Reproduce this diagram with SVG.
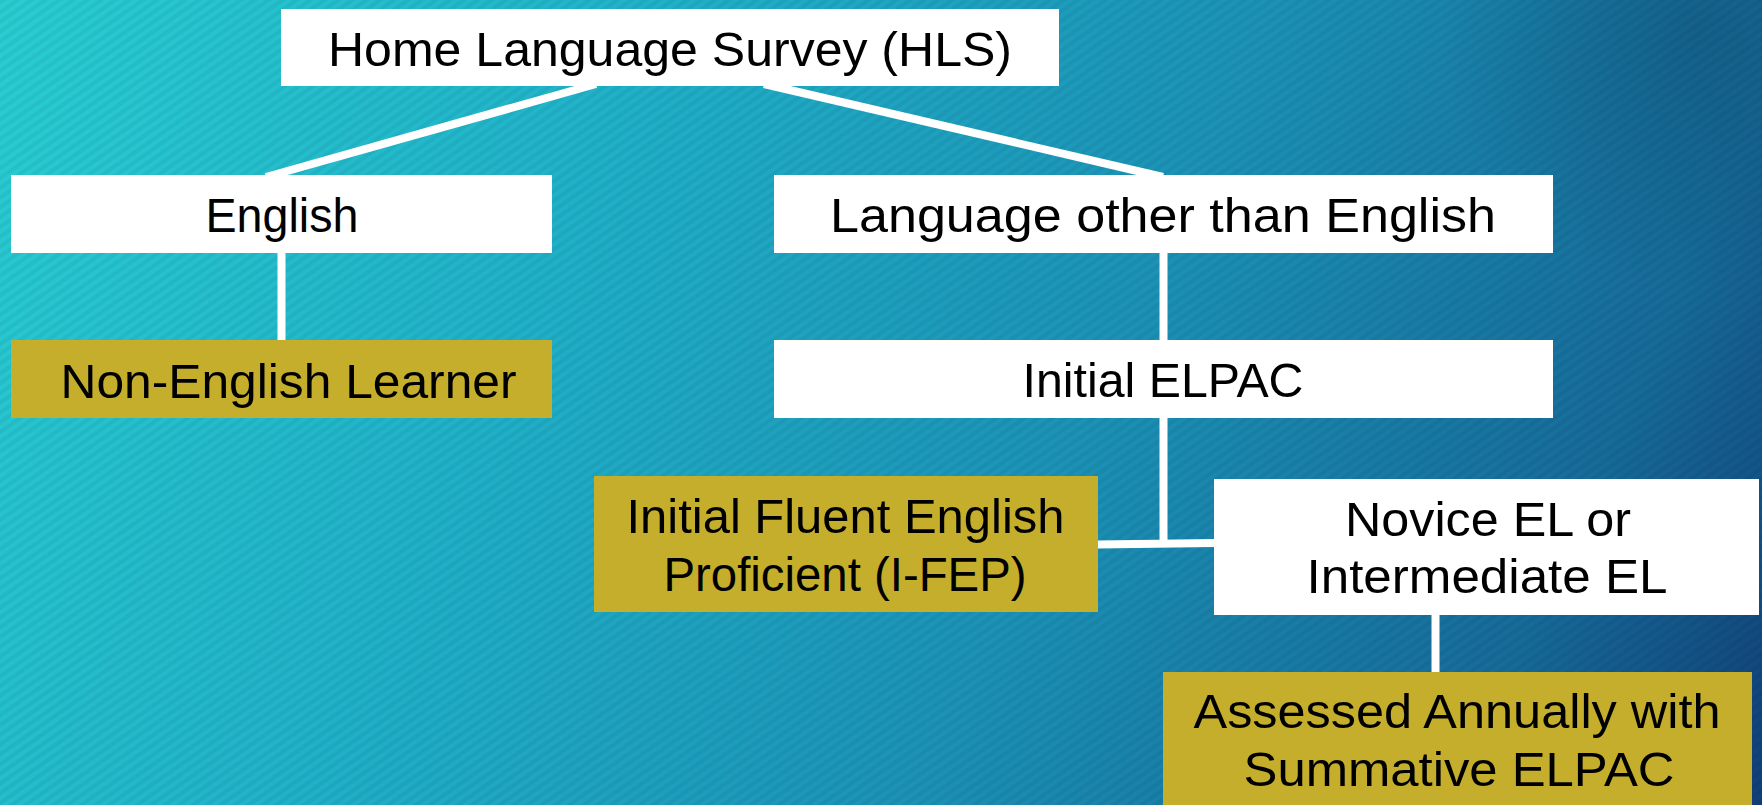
<svg xmlns="http://www.w3.org/2000/svg" width="1762" height="805" viewBox="0 0 1762 805">
  <defs>
    <linearGradient id="bg" gradientUnits="userSpaceOnUse" x1="0" y1="0" x2="1762" y2="805">
      <stop offset="0" stop-color="#29cdd2"/>
      <stop offset="0.3" stop-color="#20b2c9"/>
      <stop offset="0.6" stop-color="#1b92b6"/>
      <stop offset="0.85" stop-color="#166b99"/>
      <stop offset="1" stop-color="#113f77"/>
    </linearGradient>
    <radialGradient id="shade" gradientUnits="userSpaceOnUse" cx="1700" cy="30" r="260">
      <stop offset="0" stop-color="#0c3f66" stop-opacity="0.35"/>
      <stop offset="1" stop-color="#0c3f66" stop-opacity="0"/>
    </radialGradient>
    <pattern id="stripes" patternUnits="userSpaceOnUse" width="8" height="8" patternTransform="rotate(-35)">
      <rect x="0" y="0" width="8" height="4" fill="#000" fill-opacity="0.05"/>
    </pattern>
  </defs>
  <style>
    .box-w { fill: #ffffff; }
    .box-g { fill: #c4ae2c; }
    .lbl { font-family: "Liberation Sans", Arial, sans-serif; font-size: 48px; fill: #000; text-anchor: middle; }
    .conn { stroke: #ffffff; stroke-width: 8; fill: none; }
  </style>

  <!-- background -->
  <rect x="0" y="0" width="1762" height="805" fill="url(#bg)"/>
  <rect x="0" y="0" width="1762" height="805" fill="url(#shade)"/>
  <rect x="0" y="0" width="1762" height="805" fill="url(#stripes)"/>

  <!-- connectors -->
  <g id="connectors">
    <line class="conn" x1="596" y1="84" x2="266" y2="177"/>
    <line class="conn" x1="764" y1="84" x2="1163" y2="177"/>
    <line class="conn" x1="281.5" y1="252" x2="281.5" y2="341"/>
    <line class="conn" x1="1163.5" y1="252" x2="1163.5" y2="341"/>
    <line class="conn" x1="1163.5" y1="417" x2="1163.5" y2="543"/>
    <line class="conn" x1="1097" y1="544.5" x2="1215" y2="543"/>
    <line class="conn" x1="1435.5" y1="614" x2="1435.5" y2="673"/>
  </g>

  <g id="node-hls">
    <rect class="box-w" x="281" y="9" width="778" height="77"/>
    <text class="lbl" x="670" y="66" textLength="684" lengthAdjust="spacingAndGlyphs">Home Language Survey (HLS)</text>
  </g>

  <g id="node-english">
    <rect class="box-w" x="11" y="175" width="541" height="78"/>
    <text class="lbl" x="282" y="232" textLength="153" lengthAdjust="spacingAndGlyphs">English</text>
  </g>

  <g id="node-other">
    <rect class="box-w" x="774" y="175" width="779" height="78"/>
    <text class="lbl" x="1163" y="232" textLength="666" lengthAdjust="spacingAndGlyphs">Language other than English</text>
  </g>

  <g id="node-non-el">
    <rect class="box-g" x="11" y="340" width="541" height="78"/>
    <text class="lbl" x="288.5" y="398" textLength="456" lengthAdjust="spacingAndGlyphs">Non-English Learner</text>
  </g>

  <g id="node-initial-elpac">
    <rect class="box-w" x="774" y="340" width="779" height="78"/>
    <text class="lbl" x="1163" y="397" textLength="281" lengthAdjust="spacingAndGlyphs">Initial ELPAC</text>
  </g>

  <g id="node-ifep">
    <rect class="box-g" x="594" y="476" width="504" height="136"/>
    <text class="lbl" x="845.5" y="533" textLength="438" lengthAdjust="spacingAndGlyphs">Initial Fluent English</text>
    <text class="lbl" x="845" y="591" textLength="363" lengthAdjust="spacingAndGlyphs">Proficient (I-FEP)</text>
  </g>

  <g id="node-novice">
    <rect class="box-w" x="1214" y="479" width="545" height="136"/>
    <text class="lbl" x="1488" y="536" textLength="286" lengthAdjust="spacingAndGlyphs">Novice EL or</text>
    <text class="lbl" x="1487" y="593" textLength="361" lengthAdjust="spacingAndGlyphs">Intermediate EL</text>
  </g>

  <g id="node-assessed">
    <rect class="box-g" x="1163" y="672" width="589" height="140"/>
    <text class="lbl" x="1457" y="728" textLength="527" lengthAdjust="spacingAndGlyphs">Assessed Annually with</text>
    <text class="lbl" x="1459" y="786" textLength="431" lengthAdjust="spacingAndGlyphs">Summative ELPAC</text>
  </g>
</svg>
